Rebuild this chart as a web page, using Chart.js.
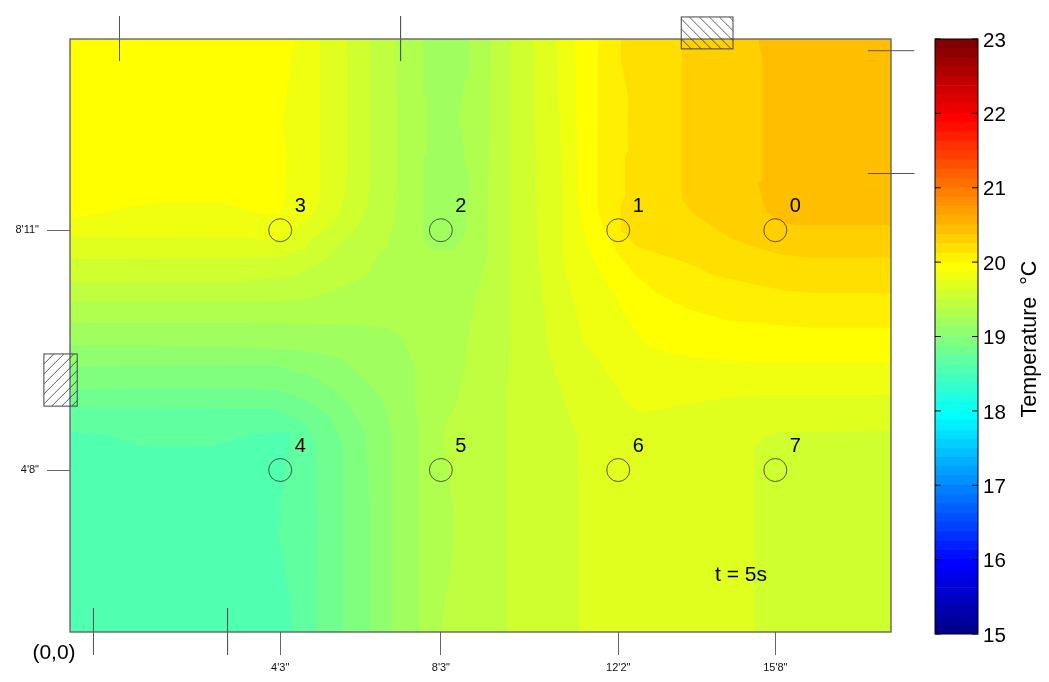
<!DOCTYPE html>
<html>
<head>
<meta charset="utf-8">
<script src="https://cdn.jsdelivr.net/npm/chart.js@4"></script>
<style>
html,body{margin:0;padding:0;background:#fff;}
canvas{position:absolute;top:0;}
#room{left:0;}
#key{left:900px;}
</style>
</head>
<body>
<canvas id="room" width="1049" height="682"></canvas>
<canvas id="key" width="149" height="682"></canvas>
<script>
// Room extent, feet
const roomW = 18.24, roomH = 13.18;

// Temperature of each contour band (deg C) and its outline in room feet [x, y]
const band29T = 18.56;
const band29 = [[0,0],[18.24,0],[18.24,13.18],[0,13.18]];
const band30T = 18.69;
const band30 = [[0,4.44],[0.82,4.38],[1.62,4.13],[3.18,4.13],[3.78,4.31],[4.16,4.42],[4.89,4.44],[4.78,3.60],[4.69,3.00],[4.62,2.20],[4.82,1.09],[4.98,0],[18.24,0],[18.24,13.18],[0,13.18]];
const band31T = 18.81;
const band31 = [[0,5.00],[3.78,4.98],[4.51,4.98],[4.89,4.82],[5.27,4.56],[5.44,4.27],[5.49,2.49],[5.47,0],[18.24,0],[18.24,13.18],[0,13.18]];
const band32T = 18.94;
const band32 = [[0,5.40],[3.78,5.42],[4.60,5.38],[5.11,5.22],[5.49,5.00],[5.78,4.78],[5.96,4.42],[6.07,4.11],[6.07,0],[18.24,0],[18.24,13.18],[0,13.18]];
const band33T = 19.06;
const band33 = [[0,5.89],[3.78,5.93],[4.51,5.93],[4.89,5.82],[5.49,5.64],[5.93,5.31],[6.22,5.00],[6.44,4.67],[6.58,4.38],[6.67,2.49],[6.67,0],[18.24,0],[18.24,13.18],[0,13.18]];
const band34T = 19.19;
const band34 = [[0,6.38],[3.78,6.33],[5.00,6.27],[5.40,6.22],[6.00,6.09],[6.38,5.78],[6.73,5.42],[6.93,5.16],[7.07,4.71],[7.16,4.42],[7.16,0],[18.24,0],[18.24,13.18],[0,13.18]];
const band35T = 19.31;
const band35 = [[0,6.87],[3.78,6.87],[6.22,6.84],[7.04,6.76],[7.33,6.60],[7.51,6.27],[7.67,5.89],[7.67,4.93],[7.76,4.60],[7.76,0],[18.24,0],[18.24,13.18],[8.87,13.18],[8.87,12.38],[8.78,12.27],[8.71,11.89],[8.62,11.38],[8.71,11.09],[8.78,10.42],[8.87,10.20],[8.87,9.60],[8.80,8.87],[8.51,8.49],[8.04,8.49],[7.84,8.71],[7.84,10.56],[7.93,10.64],[7.93,11.89],[7.84,11.98],[7.84,13.18],[0,13.18]];
const band36T = 19.44;
const band36a = [[0,13.18],[7.24,13.18],[7.27,10.27],[7.22,9.22],[7.04,8.56],[6.73,8.20],[6.62,7.93],[6.07,7.67],[5.62,7.49],[5.11,7.38],[3.78,7.33],[0,7.33]];
const band36b = [[9.36,13.18],[9.29,9.38],[9.29,8.33],[9.11,7.82],[8.93,7.00],[8.84,6.49],[8.78,5.89],[8.62,5.16],[8.40,4.71],[8.29,4.33],[8.51,2.78],[8.51,1.76],[8.44,1.31],[8.27,0.20],[8.27,0],[18.24,0],[18.24,13.18]];
const band37T = 19.56;
const band37a = [[0,13.18],[6.67,13.18],[6.67,10.27],[6.62,9.53],[6.49,9.22],[6.27,8.87],[6.00,8.60],[5.67,8.27],[4.96,7.89],[4.38,7.87],[3.78,7.78],[0,7.78]];
const band37b = [[9.78,13.18],[9.78,6.49],[9.71,5.00],[9.71,0],[18.24,0],[18.24,13.18]];
const band38T = 19.69;
const band38a = [[0,13.18],[6.16,13.18],[6.16,10.27],[6.11,9.76],[6.00,9.33],[5.78,9.00],[5.40,8.76],[5.22,8.53],[4.62,8.33],[3.78,8.31],[0,8.29]];
const band38b = [[10.29,13.18],[10.38,8.71],[10.60,6.49],[10.67,6.11],[10.96,5.16],[11.27,4.33],[11.31,2.93],[11.31,0],[15.20,0],[15.20,4.11],[15.44,4.31],[15.73,4.44],[18.24,4.47],[18.24,13.18]];
const band39T = 19.81;
const band39a = [[0,13.18],[5.56,13.18],[5.56,9.56],[5.33,9.22],[4.93,8.87],[4.60,8.69],[3.78,8.76],[0,8.78]];
const band39b = [[10.80,13.18],[10.96,9.60],[10.96,8.27],[11.40,6.49],[11.93,5.76],[12.38,5.09],[12.67,4.89],[13.00,4.93],[13.56,5.04],[14.29,5.16],[15.27,5.27],[18.24,5.27],[18.24,13.18]];
const band40T = 19.94;
const band40a = [[0,13.18],[5.00,13.18],[4.89,12.64],[4.80,11.82],[4.71,11.27],[4.82,10.71],[4.78,9.60],[4.67,9.31],[4.29,9.29],[3.62,9.47],[3.27,9.56],[2.22,9.56],[1.18,9.44],[0.82,9.33],[0,9.20]];
const band40b = [[11.22,13.18],[11.29,9.60],[11.40,9.00],[11.56,8.42],[11.93,7.76],[12.60,6.64],[12.82,6.38],[13.27,6.20],[14.00,6.11],[15.18,6.00],[18.24,6.00],[18.24,13.18]];
const band41T = 20.06;
const band41 = [[11.73,13.18],[11.73,9.31],[11.93,8.87],[12.16,8.42],[12.51,7.98],[13.04,7.53],[13.78,7.16],[14.60,6.93],[15.27,6.87],[16.38,6.76],[18.24,6.76],[18.24,13.18]];
const band42T = 20.19;
const band42 = [[12.24,13.18],[12.24,12.71],[12.40,11.89],[12.40,10.71],[12.33,10.56],[12.33,9.67],[12.24,9.53],[12.24,8.93],[12.60,8.56],[13.33,8.33],[13.84,8.16],[14.29,7.93],[15.27,7.71],[15.82,7.60],[16.56,7.53],[18.24,7.53],[18.24,13.18]];
const band43T = 20.31;
const band43 = [[13.60,13.18],[13.60,9.64],[13.84,9.31],[14.16,9.09],[14.67,8.76],[15.18,8.56],[15.84,8.38],[16.49,8.31],[18.24,8.31],[18.24,13.18]];
const band44T = 20.44;
const band44 = [[15.29,13.18],[15.38,12.71],[15.38,10.04],[15.29,9.98],[15.38,9.60],[15.49,9.31],[15.78,9.11],[16.13,9.04],[18.24,9.04],[18.24,13.18]];

// Sensors
const sensorNames = ['0','1','2','3','4','5','6','7'];
const sensorX = [15.67,12.18,8.24,4.67,4.67,8.24,12.18,15.67];
const sensorY = [8.93,8.93,8.93,8.93,3.60,3.60,3.60,3.60];

// Axis ticks: the labels are as printed on the plan
const xTickValues = [4.67,8.24,12.18,15.67];
const xTickLabels = ['4\'3"','8\'3"','12\'2"','15\'8"'];
const yTickValues = [3.60,8.93];
const yTickLabels = ['4\'8"','8\'11"'];

// Door marks on the walls (segments in feet)
const doorTopA = [[1.10,13.69],[1.10,12.69]];
const doorTopB = [[7.344,13.69],[7.344,12.69]];
const doorBottomA = [[0.522,0.53],[0.522,-0.51]];
const doorBottomB = [[3.50,0.53],[3.50,-0.51]];
const doorRightA = [[17.73,12.92],[18.76,12.92]];
const doorRightB = [[17.73,10.19],[18.76,10.19]];

// Windows [xMin, xMax, yMin, yMax] in feet
const windowTop = [13.58,14.73,12.96,13.67];
const windowLeft = [-0.58,0.16,5.02,6.18];

// Colour key
const keyTicks = [15,16,17,18,19,20,21,22,23];
const keyEdges = [15,15.125,15.25,15.375,15.5,15.625,15.75,15.875,16,16.125,16.25,16.375,16.5,16.625,16.75,16.875,17,17.125,17.25,17.375,17.5,17.625,17.75,17.875,18,18.125,18.25,18.375,18.5,18.625,18.75,18.875,19,19.125,19.25,19.375,19.5,19.625,19.75,19.875,20,20.125,20.25,20.375,20.5,20.625,20.75,20.875,21,21.125,21.25,21.375,21.5,21.625,21.75,21.875,22,22.125,22.25,22.375,22.5,22.625,22.75,22.875,23];

const FONT = '"Liberation Sans", Arial, sans-serif';
const LINE = '#555';

function jet(t){
  const i = Math.min(64, Math.max(1, Math.floor((t-15)/0.125)+1));
  const c = v => Math.max(0, Math.min(255, Math.round(v)));
  let r=0,g=0,b=0;
  if(i<=8){b=127+16*i;}
  else if(i<=24){g=16*(i-8);b=255;}
  else if(i<=40){r=16*(i-24);g=255;b=255-16*(i-24);}
  else if(i<=56){r=255;g=255-16*(i-40);}
  else{r=255-16*(i-56);}
  return 'rgb('+c(r)+','+c(g)+','+c(b)+')';
}
const toXY = pts => pts.map(p => ({x:p[0], y:p[1]}));

const bandList = [
  [band29T,band29],[band30T,band30],[band31T,band31],[band32T,band32],[band33T,band33],
  [band34T,band34],[band35T,band35],[band36T,band36a],[band36T,band36b],[band37T,band37a],
  [band37T,band37b],[band38T,band38a],[band38T,band38b],[band39T,band39a],[band39T,band39b],
  [band40T,band40a],[band40T,band40b],[band41T,band41],[band42T,band42],[band43T,band43],[band44T,band44]
];
const bandSets = bandList.map((b,k) => ({
  label:'T '+b[0], data:toXY(b[1]), showLine:true, pointRadius:0, borderWidth:0,
  polygon:jet(b[0]), order:1000-k
}));
const doorSets = [doorTopA,doorTopB,doorBottomA,doorBottomB,doorRightA,doorRightB].map(d => ({
  label:'door', data:toXY(d), showLine:true, pointRadius:0, borderWidth:1, borderColor:LINE, clip:false, order:2
}));
const sensorSet = {
  label:'sensors', data:sensorX.map((x,i)=>({x:x,y:sensorY[i]})), showLine:false,
  pointRadius:11.5, pointHoverRadius:11.5, pointBackgroundColor:'rgba(0,0,0,0)', pointBorderColor:'rgba(50,50,50,0.8)', pointBorderWidth:1, order:1
};

const polygonFill = {
  id:'polygonFill',
  beforeDatasetDraw(chart,args){
    const ds = chart.data.datasets[args.index];
    if(!ds.polygon) return;
    const pts = args.meta.data, ctx = chart.ctx;
    ctx.save();
    ctx.beginPath();
    pts.forEach((p,i)=> i ? ctx.lineTo(p.x,p.y) : ctx.moveTo(p.x,p.y));
    ctx.closePath();
    ctx.fillStyle = ds.polygon;
    ctx.fill();
    ctx.restore();
  }
};

const roomExtras = {
  id:'roomExtras',
  afterDatasetsDraw(chart){
    const ctx = chart.ctx, X = chart.scales.x, Y = chart.scales.y;
    const px = v => X.getPixelForValue(v), py = v => Y.getPixelForValue(v);
    ctx.save();
    // walls
    ctx.strokeStyle = '#666'; ctx.lineWidth = 1.4;
    ctx.strokeRect(px(0),py(roomH),px(roomW)-px(0),py(0)-py(roomH));
    // windows
    function hatch(w,dir){
      const l=px(w[0]), r=px(w[1]), t=py(w[3]), b=py(w[2]);
      ctx.save();
      ctx.beginPath(); ctx.rect(l,t,r-l,b-t); ctx.clip();
      ctx.strokeStyle='#333'; ctx.lineWidth=0.8;
      const h=b-t;
      for(let s=l-h-10; s<r+h+10; s+=10){
        ctx.beginPath();
        if(dir>0){ctx.moveTo(s,b);ctx.lineTo(s+h,t);} else {ctx.moveTo(s,t);ctx.lineTo(s+h,b);}
        ctx.stroke();
      }
      ctx.restore();
      ctx.strokeStyle='#444'; ctx.lineWidth=1;
      ctx.strokeRect(l,t,r-l,b-t);
    }
    hatch(windowTop,-1);
    hatch(windowLeft,1);
    // sensor labels
    ctx.fillStyle='#000'; ctx.font='20px '+FONT; ctx.textAlign='center'; ctx.textBaseline='middle';
    sensorNames.forEach((n,i)=> ctx.fillText(n, px(sensorX[i])+20, py(sensorY[i])-24));
    ctx.font='21px '+FONT;
    ctx.fillText('t = 5s', 741, 575);
    ctx.fillText('(0,0)', 54, 653);
    ctx.restore();
  }
};

new Chart(document.getElementById('room'),{
  type:'scatter',
  data:{datasets:[...bandSets,...doorSets,sensorSet]},
  plugins:[polygonFill,roomExtras],
  options:{
    responsive:false, animation:false, devicePixelRatio:1,
    layout:{padding:{top:39,right:158,left:0,bottom:0}},
    plugins:{legend:{display:false},tooltip:{enabled:false}},
    events:[],
    scales:{
      x:{type:'linear',min:0,max:roomW,
        afterBuildTicks(s){s.ticks=xTickValues.map(v=>({value:v}));},
        afterFit(s){s.height=50;},
        grid:{drawOnChartArea:false,tickLength:23,tickColor:'#666',tickWidth:1},
        border:{display:false},
        ticks:{autoSkip:false,maxRotation:0,padding:6,color:'#111',font:{family:FONT,size:11},
          callback:v=>xTickLabels[xTickValues.indexOf(v)]}
      },
      y:{type:'linear',min:0,max:roomH,
        afterBuildTicks(s){s.ticks=yTickValues.map(v=>({value:v}));},
        afterFit(s){s.width=70;},
        grid:{drawOnChartArea:false,tickLength:23,tickColor:'#666',tickWidth:1},
        border:{display:false},
        ticks:{autoSkip:false,padding:8,color:'#111',font:{family:FONT,size:11},
          callback:v=>yTickLabels[yTickValues.indexOf(v)]}
      }
    }
  }
});

const keyExtras = {
  id:'keyExtras',
  afterDatasetsDraw(chart){
    const ctx=chart.ctx, a=chart.chartArea, Y=chart.scales.y;
    ctx.save();
    ctx.strokeStyle='#000'; ctx.lineWidth=1;
    ctx.strokeRect(a.left,a.top,a.right-a.left,a.bottom-a.top);
    keyTicks.forEach(t=>{
      const y=Y.getPixelForValue(t);
      ctx.beginPath();
      ctx.moveTo(a.left,y);ctx.lineTo(a.left+6,y);
      ctx.moveTo(a.right-6,y);ctx.lineTo(a.right,y);
      ctx.stroke();
    });
    ctx.translate(130,339);
    ctx.rotate(-Math.PI/2);
    ctx.fillStyle='#000'; ctx.font='21.5px '+FONT; ctx.textAlign='center'; ctx.textBaseline='middle';
    ctx.fillText('Temperature  \u00B0C',0,0);
    ctx.restore();
  }
};

new Chart(document.getElementById('key'),{
  type:'bar',
  data:{
    labels:['T'],
    datasets:keyEdges.slice(0,-1).map((e,i)=>({
      label:String(e), data:[[e,keyEdges[i+1]]], backgroundColor:jet(e+0.06), borderWidth:0,
      barPercentage:1, categoryPercentage:1, grouped:false
    }))
  },
  plugins:[keyExtras],
  options:{
    responsive:false, animation:false, devicePixelRatio:1, events:[],
    layout:{padding:{top:39,left:35,bottom:48,right:0}},
    plugins:{legend:{display:false},tooltip:{enabled:false}},
    scales:{
      x:{display:false,stacked:false},
      y:{position:'right',min:15,max:23,
        afterBuildTicks(s){s.ticks=keyTicks.map(v=>({value:v}));},
        afterFit(s){s.width=71;},
        grid:{drawOnChartArea:false,drawTicks:false},
        border:{display:false},
        ticks:{padding:5,labelOffset:2,color:'#000',font:{family:FONT,size:20.5}}
      }
    }
  }
});
</script>
</body>
</html>
